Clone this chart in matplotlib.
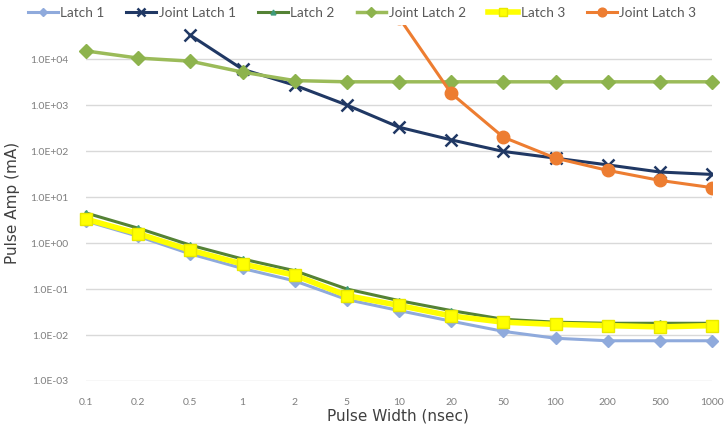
import numpy as np
import matplotlib
matplotlib.use("Agg")
import matplotlib.pyplot as plt

plt.rcParams['font.family'] = ['Lato', 'DejaVu Sans']

# pulse width categories (nsec)
widths = ["0.1", "0.2", "0.5", "1", "2", "5", "10", "20", "50", "100", "200", "500", "1000"]

nan = np.nan
latch1 = [3.0, 1.4, 0.58, 0.28, 0.15, 0.059, 0.034, 0.020, 0.012, 0.0085, 0.0075, 0.0075, 0.0075]
joint1 = [nan, nan, 3.3e4, 6.0e3, 2.7e3, 1.0e3, 330, 175, 98, 70, 50, 35, 31]
latch2 = [4.5, 2.1, 0.9, 0.45, 0.25, 0.10, 0.056, 0.034, 0.022, 0.019, 0.018, 0.018, 0.018]
joint2 = [1.5e4, 1.05e4, 9.0e3, 5.2e3, 3.4e3, 3.2e3, 3.2e3, 3.2e3, 3.2e3, 3.2e3, 3.2e3, 3.2e3, 3.2e3]
latch3 = [3.3, 1.6, 0.7, 0.35, 0.2, 0.072, 0.044, 0.026, 0.019, 0.017, 0.016, 0.015, 0.016]
joint3 = [nan, nan, nan, nan, nan, nan, 8.0e4, 1.8e3, 200, 70, 38, 23, 16]

x = np.arange(len(widths))

fig = plt.figure(figsize=(7.24, 4.24), dpi=100)
ax = fig.add_axes([86/724, 1-381/424, (712-86)/724, (381-25)/424])

ax.plot(x, latch1, color='#8FAADC', lw=2.2, marker='D', ms=6, mfc='#8FAADC', mec='#8FAADC', label='Latch 1', clip_on=False)
ax.plot(x, joint1, color='#203864', lw=2.2, marker='x', ms=8, mew=1.8, label='Joint Latch 1', clip_on=True)
ax.plot(x, latch2, color='#548235', lw=2.2, marker='^', ms=5, mfc='#3E9A7A', mec='#3E9A7A', label='Latch 2', clip_on=False)
ax.plot(x, joint2, color='#9BBB59', lw=2.5, marker='D', ms=7, mfc='#8DB34D', mec='#8DB34D', label='Joint Latch 2', clip_on=False)
ax.plot(x, latch3, color='#FFFF00', lw=4, marker='s', ms=9, mfc='#FFFF00', mec='#E8E800', label='Latch 3', clip_on=False)
ax.plot(x, joint3, color='#ED7D31', lw=2.2, marker='o', ms=9, mfc='#ED7D31', mec='#ED7D31', label='Joint Latch 3', clip_on=True)

ax.set_yscale('log')
ax.set_ylim(1e-3, 5.5e4)
ax.set_xlim(0, len(widths) - 1)
yt = [1e-3, 1e-2, 1e-1, 1e0, 1e1, 1e2, 1e3, 1e4]
ax.set_yticks(yt)
ax.set_yticklabels(["%.1E" % v for v in yt])
ax.yaxis.set_minor_locator(matplotlib.ticker.NullLocator())
ax.set_xticks(x)
ax.set_xticklabels(widths)
ax.tick_params(axis='both', length=0, labelsize=7.5, colors='#7F7F7F')
ax.tick_params(axis='y', pad=13)
ax.tick_params(axis='x', pad=12)

ax.grid(axis='y', color='#D9D9D9', lw=1)
ax.set_axisbelow(True)
for s in ax.spines.values():
    s.set_visible(False)

fig.text(398/724, 1-416/424, 'Pulse Width (nsec)', fontsize=11, color='#404040',
         ha='center', va='center', family=['DejaVu Sans'])
fig.text(13/724, 1-203/424, 'Pulse Amp (mA)', fontsize=11, color='#404040', rotation=90,
         ha='center', va='center', family=['DejaVu Sans'])

fig.legend(loc='upper center', bbox_to_anchor=(0.5, 1.012), ncol=6, frameon=False,
           fontsize=9.8, handlelength=2.2, columnspacing=1.6, handletextpad=0.2,
           markerscale=0.7, labelcolor='#595959')

fig.savefig('out.png', dpi=100)
